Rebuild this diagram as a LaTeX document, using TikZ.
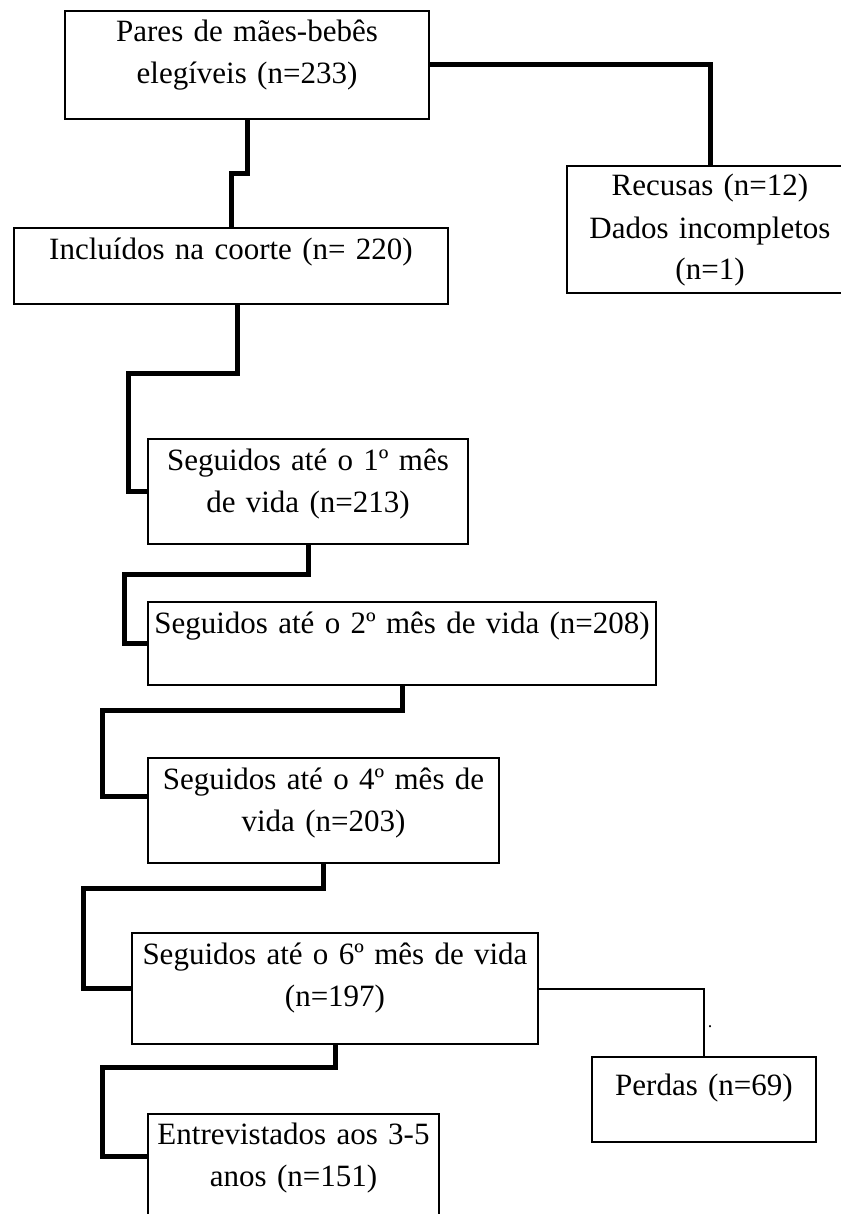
\documentclass[tikz,border=0pt]{standalone}
\usepackage{fontspec}
\setmainfont{Liberation Serif}
\usetikzlibrary{positioning}

\begin{document}
\begin{tikzpicture}[
        x=0.5pt, y=-0.5pt,
        font=\fontsize{15.5}{21}\selectfont,
        stage/.style={draw=black, line width=1pt, anchor=north west, align=center,
                      inner sep=0pt, text height=15.5pt},
        flow/.style={draw=black, line width=2.5pt},
        thinflow/.style={draw=black, line width=1pt},
      ]
        \useasboundingbox (0,0) rectangle (840,1214);
        \node[stage, text width=182pt, text depth=38.5pt] (elig)   at (64,10)   {Pares de mães-bebês\\elegíveis (n=233)};
        \node[stage, text width=143pt, text depth=48.5pt, text height=15pt] (refus) at (566,165) {Recusas (n=12)\\Dados incompletos\\(n=1)};
        \node[stage, text width=217pt, text depth=22.5pt] (incl)   at (13,227)  {Incluídos na coorte (n= 220)};
        \node[stage, text width=160pt, text depth=37pt]   (s1)     at (147,438) {Seguidos até o 1º mês\\de vida (n=213)};
        \node[stage, text width=254pt, text depth=26pt]   (s2)     at (147,601) {Seguidos até o 2º mês de vida (n=208)};
        \node[stage, text width=175.5pt, text depth=37pt] (s4)     at (147,757) {Seguidos até o 4º mês de\\vida (n=203)};
        \node[stage, text width=203pt, text depth=40pt]   (s6)     at (131,932) {Seguidos até o 6º mês de vida\\(n=197)};
        \node[stage, text width=112pt, text depth=23.5pt, text height=19pt] (loss) at (591,1056) {Perdas (n=69)};
        \node[stage, text width=145.5pt, text depth=41pt, text height=15pt] (entrev) at (147,1113) {Entrevistados aos 3-5\\anos (n=151)};
        \node[font=\small, inner sep=0pt] (dot) at (710,1027) {.};
        \draw[flow] (elig.south) -- ++(0,54) -| (incl.north);
        \draw[flow] (elig.east) -| (refus.north);
        \draw[flow] ([xshift=3pt]incl.south) -- ++(0,68) -| ([xshift=-9.5pt]s1.west) -- (s1.west);
        \draw[flow] (s1.south) -- ++(0,29) -| ([xshift=-11.5pt]s2.west) -- (s2.west);
        \draw[flow] (s2.south) -- ++(0,24) -| ([shift={(-22.5pt,7pt)}]s4.west) -- ([yshift=7pt]s4.west);
        \draw[flow] (s4.south) -- ++(0,24) -| ([xshift=-24pt]s6.west) -- (s6.west);
        \draw[flow] (s6.south) -- ++(0,22) -| ([shift={(-22.5pt,7pt)}]entrev.west) -- ([yshift=7pt]entrev.west);
        \draw[thinflow] (s6.east) -| (loss.north);
      \end{tikzpicture}
\end{document}
